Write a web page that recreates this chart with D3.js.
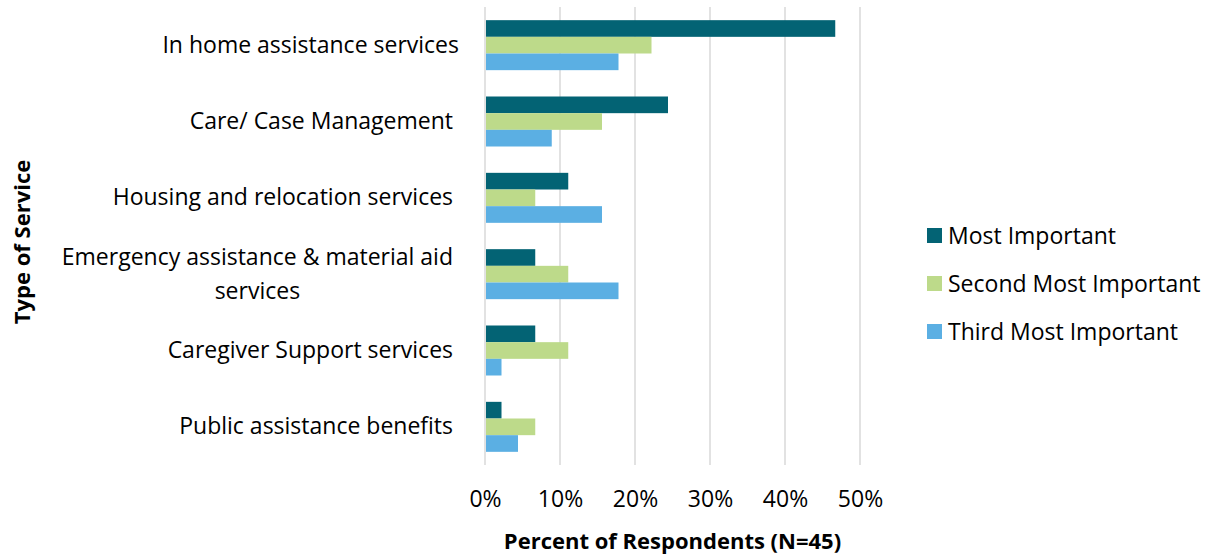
<!DOCTYPE html>
<html>
<head>
<meta charset="utf-8">
<script src="https://cdn.jsdelivr.net/npm/d3@7"></script>
<style>
  body { margin: 0; background: #fff; }
  text { font-family: "Open Sans", Lato, sans-serif; fill: #000; }
  .axisLabel { white-space: pre; }
  .title { font-size: 22px; font-weight: bold; }
</style>
</head>
<body>
<div id="chart"></div>
<script>
// categories, top to bottom
var categories = [
    "In home assistance services",
    "Care/ Case Management ",
    "Housing and relocation services ",
    "Emergency assistance & material aid services ",
    "Caregiver Support services ",
    "Public assistance benefits "
];
var series = ["Most Important", "Second Most Important", "Third Most Important"];

// percent of respondents (N=45)
var mostImportant   = [46.7, 24.4, 11.1, 6.7, 6.7, 2.2];
var secondImportant = [22.2, 15.6, 6.7, 11.1, 11.1, 6.7];
var thirdImportant  = [17.8, 8.9, 15.6, 17.8, 2.2, 4.4];

var xTicks = [0, 10, 20, 30, 40, 50];
var colors = ["#036374", "#BDDA8A", "#5BAFE3"];

var width = 1211, height = 556;
var margin = {top: 7, right: 351, bottom: 91, left: 485};
var fontSize = "23px";

var data = categories.map(function(c, i) {
    return {cat: c, vals: [mostImportant[i], secondImportant[i], thirdImportant[i]]};
});

var svg = d3.select("#chart").append("svg")
    .attr("width", width)
    .attr("height", height);

var x = d3.scaleLinear().domain([0, 50]).range([margin.left, width - margin.right]);
var y = d3.scaleBand().domain(categories)
    .range([margin.top, height - margin.bottom])
    .paddingInner(0.345)
    .paddingOuter(0.1725);
var ys = d3.scaleBand().domain(series).range([0, y.bandwidth()]);

// gridlines
svg.append("g")
    .selectAll("line")
    .data(xTicks)
    .enter()
    .append("line")
    .attr("x1", function(d) { return x(d); })
    .attr("x2", function(d) { return x(d); })
    .attr("y1", margin.top)
    .attr("y2", height - margin.bottom)
    .style("stroke", "#d9d9d9")
    .style("stroke-width", 1.5);

// bars
var groups = svg.append("g")
    .selectAll("g")
    .data(data)
    .enter()
    .append("g")
    .attr("transform", function(d) { return "translate(0," + y(d.cat) + ")"; });

groups.selectAll("rect")
    .data(function(d) { return d.vals; })
    .enter()
    .append("rect")
    .attr("x", x(0) + 1)
    .attr("y", function(d, i) { return ys(series[i]); })
    .attr("width", function(d) { return x(d) - x(0) - 1; })
    .attr("height", ys.bandwidth())
    .style("fill", function(d, i) { return colors[i]; });

// x axis
var xAxis = svg.append("g")
    .attr("transform", "translate(0," + (height - margin.bottom) + ")")
    .call(d3.axisBottom(x).tickValues(xTicks).tickSize(0).tickPadding(26)
        .tickFormat(function(d) { return d + "%"; }));
xAxis.select(".domain").remove();
xAxis.selectAll("text").attr("class", "axisLabel").style("font-size", fontSize);

// y axis labels (wrapped like the original)
var yAxis = svg.append("g")
    .attr("transform", "translate(" + (margin.left - 26) + ",0)")
    .call(d3.axisLeft(y).tickSize(0).tickPadding(0));
yAxis.select(".domain").remove();
yAxis.selectAll("text")
    .attr("class", "axisLabel")
    .style("font-size", fontSize)
    .each(function(d) {
        var t = d3.select(this);
        if (d.indexOf("Emergency") === 0) {
            t.text(null);
            var full = "Emergency assistance & material aid";
            t.append("tspan").attr("x", 0).attr("dy", "-0.38em").text(full);
            var w = this.getComputedTextLength();
            t.append("tspan").attr("x", -w / 2 - 6).attr("dy", "1.45em")
                .attr("text-anchor", "middle").text("services");
            t.select("tspan").attr("x", -6);
        }
    });

// axis titles
svg.append("text")
    .attr("class", "title")
    .attr("x", x(25))
    .attr("y", 549)
    .attr("text-anchor", "middle")
    .text("Percent of Respondents (N=45)");

svg.append("text")
    .attr("class", "title")
    .attr("transform", "translate(30," + 242 + ") rotate(-90)")
    .attr("text-anchor", "middle")
    .text("Type of Service");

// legend
var legend = svg.append("g")
    .selectAll("g")
    .data(series)
    .enter()
    .append("g")
    .attr("transform", function(d, i) { return "translate(927," + (228 + i * 48) + ")"; });

legend.append("rect")
    .attr("width", 15)
    .attr("height", 15)
    .style("fill", function(d, i) { return colors[i]; });

legend.append("text")
    .attr("x", 21)
    .attr("y", 8)
    .attr("dy", "0.35em")
    .style("font-size", fontSize)
    .text(function(d) { return d; });
</script>
</body>
</html>
